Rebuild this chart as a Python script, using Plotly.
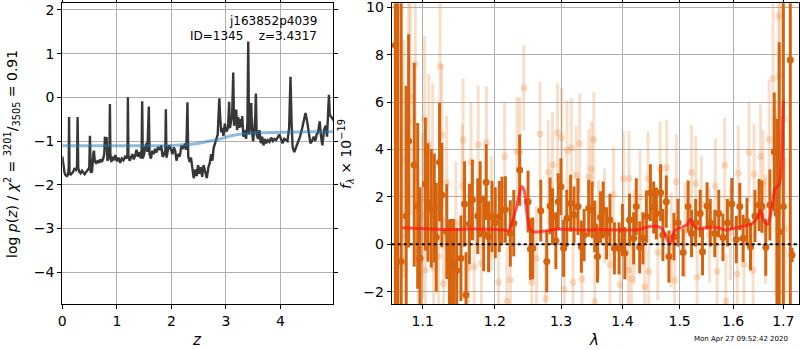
import plotly.graph_objects as go
import math

# ---------------- Left panel: log p(z) ----------------
z_grid = [0.000, 0.018, 0.040, 0.060, 0.085, 0.105, 0.118, 0.124, 0.132, 0.150, 0.175, 0.200, 0.225,
          0.250, 0.270, 0.281, 0.292, 0.310, 0.335, 0.360, 0.385, 0.410, 0.440, 0.470, 0.495, 0.507,
          0.520, 0.545, 0.568, 0.580, 0.595, 0.620, 0.650, 0.675, 0.700, 0.725, 0.750, 0.770, 0.781,
          0.795, 0.812, 0.828, 0.850, 0.866, 0.873, 0.882, 0.900, 0.925, 0.950, 0.975, 1.000, 1.030,
          1.060, 1.090, 1.120, 1.150, 1.180, 1.195, 1.203, 1.212, 1.235, 1.260, 1.285, 1.310, 1.335,
          1.360, 1.385, 1.410, 1.440, 1.455, 1.465, 1.476, 1.500, 1.520, 1.545, 1.560, 1.587, 1.600,
          1.625, 1.650, 1.675, 1.700, 1.728, 1.755, 1.789, 1.815, 1.840, 1.870, 1.890, 1.899, 1.910,
          1.935, 1.960, 1.990, 2.020, 2.045, 2.070, 2.094, 2.120, 2.155, 2.185, 2.216, 2.250, 2.275,
          2.295, 2.310, 2.335, 2.360, 2.385, 2.410, 2.440, 2.465, 2.490, 2.515, 2.540, 2.565, 2.590,
          2.620, 2.650, 2.680, 2.705, 2.730, 2.753, 2.775, 2.800, 2.825, 2.850, 2.870, 2.880, 2.895,
          2.915, 2.935, 2.955, 2.980, 3.010, 3.040, 3.060, 3.075, 3.095, 3.115, 3.135, 3.150, 3.170,
          3.190, 3.205, 3.225, 3.245, 3.265, 3.285, 3.300, 3.320, 3.340, 3.370, 3.395, 3.410, 3.425,
          3.445, 3.465, 3.480, 3.500, 3.520, 3.540, 3.550, 3.565, 3.590, 3.615, 3.640, 3.665, 3.690,
          3.715, 3.740, 3.770, 3.800, 3.830, 3.860, 3.890, 3.920, 3.950, 3.980, 4.010, 4.040, 4.070,
          4.100, 4.130, 4.160, 4.185, 4.205, 4.225, 4.255, 4.285, 4.320, 4.360, 4.400, 4.430, 4.460,
          4.490, 4.520, 4.550, 4.580, 4.610, 4.640, 4.665, 4.690, 4.720, 4.745, 4.770, 4.800, 4.830,
          4.855, 4.875, 4.890, 4.905, 4.930, 4.960, 4.976]
logpz = [-1.35, -1.58, -1.72, -1.78, -1.80, -1.76, -1.60, -0.45, -1.72, -1.78, -1.74, -1.70, -1.62,
         -1.66, -1.60, -0.45, -1.62, -1.70, -1.74, -1.68, -1.72, -1.76, -1.70, -1.66, -1.60, -0.88,
         -1.72, -1.70, -1.30, -1.22, -1.45, -1.52, -1.44, -1.50, -1.42, -1.48, -1.40, -1.30, -0.90,
         -1.20, -0.91, -1.45, -1.40, -1.10, -0.15, -1.30, -1.48, -1.36, -1.44, -1.32, -1.46, -1.38,
         -1.50, -1.40, -1.44, -1.36, -1.40, -1.30, 0.00, -1.32, -1.45, -1.38, -1.30, -1.42, -1.34,
         -1.20, -1.36, -1.25, -1.40, -1.20, -0.09, -1.40, -1.30, -1.15, -1.05, -1.25, -0.21, -1.30,
         -1.40, -1.22, -1.30, -1.18, -1.26, -1.14, -1.20, -1.10, -1.36, -1.30, -1.20, -0.27, -1.38,
         -1.22, -1.10, -1.18, -1.30, -1.15, -1.22, -1.45, -1.30, -1.35, -1.10, -1.18, -1.06, -1.20,
         -0.11, -1.35, -1.48, -1.38, -1.60, -1.85, -1.65, -1.80, -1.55, -1.75, -1.60, -1.82, -1.55,
         -1.72, -1.85, -1.60, -1.50, -1.30, -1.45, -1.16, -1.05, -0.95, -0.85, -0.30, -0.02, -0.45,
         -0.80, -0.70, -0.88, -0.60, -0.78, -0.70, -0.10, -0.70, -0.55, -0.40, 0.57, -0.65, -0.50,
         -0.28, -0.75, -0.45, -0.70, -0.50, -0.68, -0.43, -0.90, -0.75, -0.95, -0.60, 1.28, -0.85,
         -0.55, -0.13, -0.80, -1.00, -0.75, -0.40, 0.09, -0.85, -0.95, -0.75, -1.05, -0.90, -1.10,
         -0.95, -1.05, -0.98, -1.02, -0.92, -1.00, -0.95, -0.98, -0.90, -0.85, -0.95, -1.05, -0.95,
         -0.98, -1.00, -0.70, 0.47, -0.60, -1.15, -1.25, -1.15, -1.05, -0.90, -0.70, -0.55, -0.36,
         -0.55, -0.85, -1.05, -1.00, -0.90, -1.00, -0.85, -0.80, -0.55, -0.90, -1.10, -0.75, -0.65,
         -0.90, -0.50, 0.06, -0.40, -0.45, -0.50, -0.48]

z_prior = [0.0, 1.0, 2.0, 2.3, 2.5, 2.7, 2.9, 3.1, 3.3, 3.6, 4.0, 4.5, 4.97]
logp_prior = [-1.11, -1.11, -1.10, -1.08, -1.05, -1.00, -0.95, -0.88, -0.84, -0.81, -0.80, -0.79, -0.79]

# ---------------- Right panel: spectrum ----------------
wave_a = [1.0643, 1.0674, 1.0718, 1.0783, 1.0815, 1.0888, 1.0934, 1.0965, 1.1035, 1.107, 1.1114,
          1.1155, 1.1182, 1.1226, 1.1257, 1.1324, 1.136, 1.1382, 1.1418, 1.1461, 1.152, 1.157, 1.159,
          1.1638, 1.168, 1.1756, 1.179, 1.184, 1.1876, 1.191, 1.196, 1.2007, 1.2066, 1.2105, 1.2154,
          1.2227, 1.2278, 1.2366, 1.2492, 1.2527, 1.2563, 1.2685, 1.2777, 1.2828, 1.2866, 1.2918,
          1.2955, 1.2998, 1.304, 1.309, 1.315, 1.3204, 1.3268, 1.3322, 1.3366, 1.3441, 1.3496, 1.3539,
          1.3584, 1.3634, 1.3678, 1.3734, 1.379, 1.3864, 1.3942, 1.4, 1.404, 1.412, 1.419, 1.4235,
          1.4294, 1.435, 1.441, 1.448, 1.4537, 1.4585, 1.466, 1.470, 1.476, 1.4807, 1.4897, 1.497,
          1.5063, 1.5155, 1.5217, 1.5293, 1.5377, 1.542, 1.5505, 1.5565, 1.565, 1.5725, 1.5805, 1.589,
          1.5975, 1.6063, 1.613, 1.6194, 1.627, 1.634, 1.6428, 1.651, 1.6565, 1.6644, 1.6727, 1.6815,
          1.687, 1.6916, 1.7, 1.7144, 1.718]
flux_a = [8.4, 11.0, -0.73, 1.19, 4.36, 3.35, 1.62, -0.59, 2.54, 1.76, 1.52, 1.52, 0.3, 3.46, 2.08,
          0.53, -0.94, -0.83, -0.83, -1.11, -0.59, 1.7, -2.14, 0.86, 1.87, 1.19, 1.9, 0.46, 2.62, 0.32,
          1.17, 0.91, 1.17, 1.45, 1.47, 0.46, 0.89, 3.13, 1.8, -0.2, -0.17, 1.42, -0.73, 1.62, 1.17,
          0.15, 1.8, 2.43, -0.17, 1.1, 1.73, 1.24, 1.59, -0.1, 0.39, 1.52, 1.45, 0.75, -0.52, 1.14,
          1.45, 0.46, 1.03, -0.17, -0.17, 0.6, -0.38, 1.03, 0.25, 1.59, -0.13, 0.25, 1.17, 2.18, 1.55,
          1.3, 2.18, 0.39, 1.8, -0.52, 0.32, 0.91, -0.35, 1.59, 0.46, 0.91, 1.3, -0.31, 1.62, 0.91,
          0.46, 1.3, 0.29, 0.91, 1.7, 0.2, 1.59, 0.25, 0.96, -0.1, 1.19, 1.66, 1.59, -0.13, 1.66,
          3.91, 1.3, 0.53, 1.59, 7.78, -0.45]
err_a = [30, 30, 30, 5.5, 4.5, 4.3, 3.5, 3.0, 2.8, 2.5, 2.5, 2.3, 2.3, 2.5, 2.2, 2.0, 2.0, 1.9, 1.9,
         1.8, 1.8, 1.8, 1.8, 1.7, 1.7, 1.6, 1.6, 1.6, 1.6, 1.5, 1.5, 1.5, 1.5, 1.4, 1.4, 1.4, 1.4, 1.5,
         1.3, 1.3, 1.3, 1.3, 1.3, 1.2, 1.2, 1.2, 1.2, 1.2, 1.2, 1.2, 1.2, 1.2, 1.2, 1.1, 1.1, 1.2, 1.2,
         1.1, 1.1, 1.1, 1.2, 1.1, 1.1, 1.1, 1.1, 1.1, 1.1, 1.1, 1.1, 1.2, 1.1, 1.1, 1.1, 1.2, 1.1, 1.1,
         1.2, 1.1, 1.1, 1.1, 1.0, 1.0, 1.0, 1.1, 1.0, 1.0, 1.0, 1.0, 1.0, 1.0, 1.0, 1.0, 1.0, 1.0, 1.1,
         1.0, 1.0, 1.0, 1.0, 1.0, 1.1, 1.1, 1.1, 1.2, 1.5, 2.5, 4.0, 8.0, 30, 30, 0.3]

wave_b = [1.0749, 1.0815, 1.0836, 1.0902, 1.0938, 1.1000, 1.1024, 1.1035, 1.108, 1.1133, 1.1146,
          1.1213, 1.1234, 1.1257, 1.128, 1.1324, 1.1428, 1.145, 1.154, 1.155, 1.1624, 1.166, 1.1705,
          1.1762, 1.1808, 1.188, 1.195, 1.2055, 1.2144, 1.2177, 1.2227, 1.2326, 1.2366, 1.2427, 1.2547,
          1.262, 1.2674, 1.276, 1.28, 1.2866, 1.2944, 1.3008, 1.305, 1.3095, 1.3161, 1.3188, 1.3241,
          1.3295, 1.3333, 1.3441, 1.3485, 1.3523, 1.354, 1.36, 1.37, 1.379, 1.385, 1.396, 1.4016,
          1.4102, 1.4112, 1.415, 1.42, 1.43, 1.4381, 1.4438, 1.445, 1.461, 1.4651, 1.4767, 1.485,
          1.491, 1.494, 1.51, 1.5217, 1.5293, 1.532, 1.54, 1.555, 1.566, 1.5695, 1.5838, 1.586, 1.595,
          1.608, 1.61, 1.621, 1.631, 1.639, 1.641, 1.654, 1.659, 1.664, 1.671, 1.679, 1.685, 1.6904,
          1.693, 1.7, 1.7035]
flux_b = [3.6, 5.2, 6.23, 7.6, -0.6, 1.2, 5.29, -1.08, 4.2, 3.8, -1.0, -0.5, 7.52, 4.61, -1.65, 2.6,
          -2.07, 0.9, 2.46, 4.4, -1.0, 3.48, -0.94, 4.2, -0.8, 4.27, 1.3, -1.6, 3.7, -2.4, -1.5, 3.9,
          3.9, 6.6, -1.6, -0.6, 4.65, -2.3, 3.04, 3.36, 4.7, 4.49, -1.9, 3.97, 4.07, -1.6, 2.9, 4.25,
          -1.46, 2.85, 3.17, 4.42, -2.42, 0.7, 1.2, -0.86, 2.1, -1.7, 2.78, -1.1, 2.78, -1.46, 0.3,
          2.0, -1.79, 2.78, -1.15, -0.35, 3.17, 3.24, 0.2, -1.52, 2.64, 0.6, 3.03, 2.57, -1.39, 1.7,
          0.4, 2.46, -1.15, 3.33, -2.4, 0.5, -1.25, 3.0, -0.84, 3.87, -1.1, 2.97, 3.7, 2.6, 0.63,
          4.43, 7.0, 1.8, 9.63, 7.1, 5.27, 0.63]
err_b = [5.0, 5.0, 5.0, 5.0, 4.0, 3.5, 3.5, 3.0, 3.0, 3.0, 3.0, 3.0, 3.0, 3.0, 2.8, 2.8, 2.6, 2.6,
         2.6, 2.6, 2.5, 2.5, 2.5, 2.5, 2.4, 2.4, 2.4, 2.3, 2.3, 2.3, 2.3, 2.3, 2.3, 1.8, 2.2, 2.2, 2.2,
         2.2, 2.2, 2.2, 2.1, 2.1, 2.1, 2.1, 2.1, 2.1, 2.1, 2.1, 2.1, 2.0, 2.0, 2.0, 2.0, 2.0, 2.0,
         2.0, 2.0, 2.0, 2.0, 2.0, 2.0, 2.0, 2.0, 2.0, 2.0, 2.0, 2.0, 2.0, 2.0, 2.0, 2.0, 2.0, 2.0,
         2.0, 2.0, 2.0, 2.0, 2.0, 2.0, 2.0, 2.0, 2.0, 2.0, 2.0, 2.0, 2.0, 2.0, 2.1, 2.1, 2.1, 2.2,
         2.2, 2.3, 2.5, 3.5, 4.0, 5.0, 5.0, 6.0, 3.0]

wave_model = [1.0726, 1.1457, 1.1624, 1.2154, 1.2203, 1.2224, 1.2322, 1.2397, 1.2431, 1.2471, 1.2521,
              1.2569, 1.2842, 1.2944, 1.3055, 1.3485, 1.3596, 1.4294, 1.441, 1.4525, 1.4646, 1.4736,
              1.4807, 1.484, 1.491, 1.504, 1.5133, 1.519, 1.5255, 1.535, 1.5532, 1.5725, 1.585, 1.598,
              1.617, 1.637, 1.648, 1.654, 1.661, 1.668, 1.6743, 1.6845, 1.691, 1.6965, 1.699, 1.7005]
flux_model = [0.70, 0.62, 0.64, 0.60, 0.58, 0.68, 1.59, 2.43, 2.29, 1.37, 0.65, 0.53, 0.60, 0.64, 0.63,
              0.60, 0.62, 0.62, 0.72, 0.76, 0.72, 0.46, 0.06, 0.05, 0.56, 0.72, 0.83, 1.05, 0.77, 0.66,
              0.72, 0.70, 0.60, 0.66, 0.75, 0.87, 1.12, 1.43, 0.97, 0.84, 1.27, 2.40, 2.50, 3.50, 5.30,
              6.05]

left_xticks = [0, 1, 2, 3, 4]
left_yticks = [-4, -3, -2, -1, 0, 1, 2]
right_xticks = [1.1, 1.2, 1.3, 1.4, 1.5, 1.6, 1.7]
right_yticks = [-2, 0, 2, 4, 6, 8, 10]


def lab(v):
    return str(v).replace("-", "\u2212")


FONT = "DejaVu Sans"
DARK_OR = "rgb(214,100,14)"
LIGHT_OR = "rgba(232,130,50,0.26)"

fig = go.Figure()

fig.add_trace(go.Scatter(x=z_grid, y=logpz, mode="lines",
                         line=dict(color="rgb(55,55,55)", width=2.4),
                         xaxis="x", yaxis="y", showlegend=False))
fig.add_trace(go.Scatter(x=z_prior, y=logp_prior, mode="lines", line_shape="spline",
                         line=dict(color="rgba(31,119,180,0.5)", width=3),
                         xaxis="x", yaxis="y", showlegend=False))

fig.add_trace(go.Scatter(x=wave_b, y=flux_b, mode="markers",
                         marker=dict(color=LIGHT_OR, size=7),
                         error_y=dict(type="data", array=err_b, visible=True, color=LIGHT_OR,
                                      thickness=3, width=0),
                         xaxis="x2", yaxis="y2", showlegend=False))
fig.add_trace(go.Scatter(x=wave_a, y=flux_a, mode="markers",
                         marker=dict(color=DARK_OR, size=7),
                         error_y=dict(type="data", array=err_a, visible=True, color=DARK_OR,
                                      thickness=3, width=0),
                         xaxis="x2", yaxis="y2", showlegend=False))
fig.add_trace(go.Scatter(x=wave_model, y=flux_model, mode="lines", line_shape="spline",
                         line=dict(color="rgba(255,20,20,0.7)", width=3),
                         xaxis="x2", yaxis="y2", showlegend=False))

axis_common = dict(showline=True, mirror="ticks", linecolor="black", linewidth=1,
                   ticks="outside", ticklen=4, tickcolor="black", automargin=False,
                   ticklabeloverflow="allow",
                   showgrid=True, gridcolor="#b0b0b0", gridwidth=1, zeroline=False,
                   tickfont=dict(family=FONT, size=14, color="black"))

y_dom = [1 - 304 / 350, 1 - 3.3 / 350]
fig.update_layout(
    width=800, height=350,
    margin=dict(l=0, r=0, t=0, b=0),
    paper_bgcolor="white", plot_bgcolor="white",
    font=dict(family=FONT, size=14, color="black"),
    xaxis=dict(domain=[62.3 / 800, 333.3 / 800], range=[0, 4.97],
               tickvals=left_xticks, ticktext=[lab(v) for v in left_xticks], anchor="y",
               **axis_common),
    yaxis=dict(domain=y_dom, range=[-4.73, 2.153],
               tickvals=left_yticks, ticktext=[lab(v) for v in left_yticks], anchor="x",
               **axis_common),
    xaxis2=dict(domain=[391.7 / 800, 799.3 / 800], type="log",
                range=[math.log10(1.0596), math.log10(1.7331)],
                tickvals=right_xticks, ticktext=[lab(v) for v in right_xticks], anchor="y2",
                **axis_common),
    yaxis2=dict(domain=y_dom, range=[-2.52, 10.17],
                tickvals=right_yticks, ticktext=[lab(v) for v in right_yticks], anchor="x2",
                **axis_common),
)

# dotted zero line on spectrum panel
fig.add_shape(type="line", xref="x2 domain", yref="y2", x0=0, x1=1, y0=0, y1=0,
              line=dict(color="black", width=2, dash="dot"))

ann = [
    dict(text="j163852p4039", x=319, y=21, xanchor="right", size=12),
    dict(text="ID=1345    z=3.4317", x=319, y=36, xanchor="right", size=12),
    dict(text="<i>z</i>", x=197, y=340, xanchor="center", size=15),
    dict(text="<i>λ</i>", x=594, y=340, xanchor="center", size=15),
    dict(text="Mon Apr 27 09:52:42 2020", x=741, y=339, xanchor="center", size=7),
]
for a in ann:
    fig.add_annotation(text=a["text"], xref="paper", yref="paper",
                       x=a["x"] / 800, y=1 - a["y"] / 350, xanchor=a["xanchor"], yanchor="middle",
                       showarrow=False, font=dict(family=FONT, size=a["size"], color="black"))

fig.add_annotation(
    text="log <i>p</i>(<i>z</i>) / <i>χ</i><sup>2</sup> = <sup>3201</sup>/<sub>3505</sub> = 0.91",
    xref="paper", yref="paper", x=12 / 800, y=1 - 154 / 350, xanchor="center", yanchor="middle",
    textangle=-90, showarrow=False, font=dict(family=FONT, size=14, color="black"))
fig.add_annotation(
    text="<i>f</i><sub><i>λ</i></sub> × 10<sup>\u221219</sup>",
    xref="paper", yref="paper", x=346 / 800, y=1 - 154 / 350, xanchor="center", yanchor="middle",
    textangle=-90, showarrow=False, font=dict(family=FONT, size=14, color="black"))

fig.write_html("out.html")
